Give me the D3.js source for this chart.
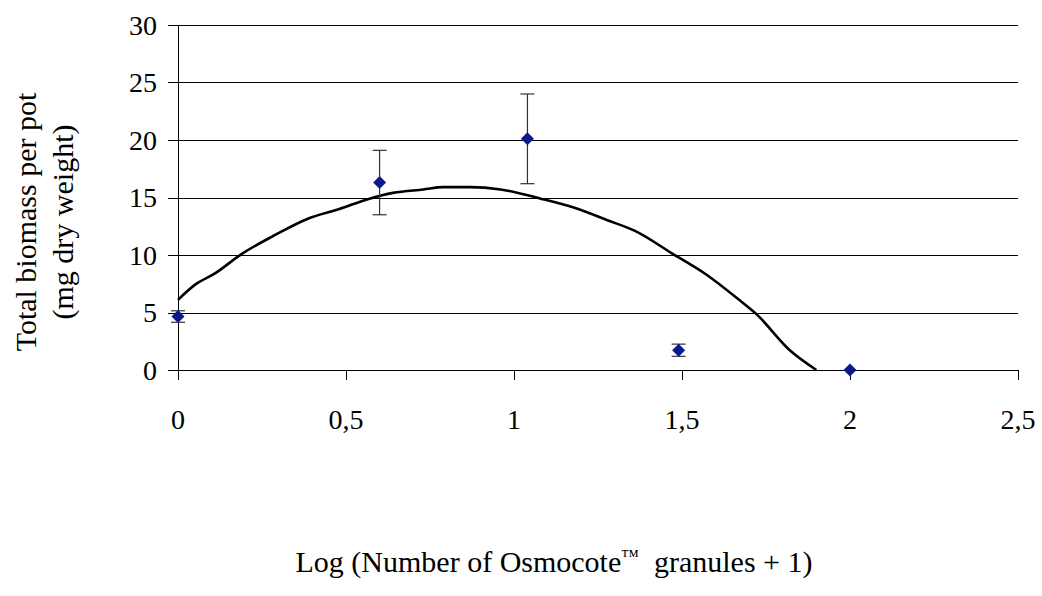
<!DOCTYPE html>
<html>
<head>
  <meta charset="utf-8">
  <title>Total biomass per pot</title>
  <style>
    body { margin: 0; background: #fff; }
    svg { font-family: "Liberation Serif", "Times New Roman", serif; }
    .grid line { stroke: #000; stroke-width: 1; }
    .tick-label { font-size: 28px; fill: #000; }
    .title { font-size: 30px; fill: #000; white-space: pre; }
  </style>
  <script src="https://d3js.org/d3.v7.min.js"></script>
</head>
<body>
  <script>
    // measured points (mean and error)
    var pointX = [0, 0.6, 1.04, 1.49, 2.0];
    var pointY = [4.65, 16.3, 20.1, 1.72, 0];
    var pointErr = [0.5, 2.8, 3.9, 0.53, 0];

    // trendline
    var fitX = [0, 0.05, 0.11, 0.19, 0.28, 0.39, 0.48, 0.57, 0.64, 0.73, 0.79, 0.87, 0.96, 1.08, 1.18, 1.28, 1.36, 1.47, 1.57, 1.67, 1.72, 1.82, 1.90];
    var fitY = [6.1, 7.4, 8.4, 10.1, 11.6, 13.2, 14.0, 14.9, 15.4, 15.7, 15.9, 15.9, 15.7, 14.9, 14.1, 13.0, 12.1, 10.15, 8.35, 6.1, 4.9, 1.74, 0.0];

    var xTicks = [0, 0.5, 1, 1.5, 2, 2.5];
    var yTicks = [0, 5, 10, 15, 20, 25, 30];

    var width = 1042, height = 596;
    var m = {left: 178, right: 1018, top: 25, bottom: 370};

    var svg = d3.select('body').append('svg')
      .attr('width', width)
      .attr('height', height);

    var x = d3.scaleLinear().domain([0, 2.5]).range([m.left, m.right]);
    var y = d3.scaleLinear().domain([0, 30]).range([m.bottom, m.top]);

    var fmt = function(d) { return String(d).replace('.', ','); };

    // horizontal gridlines (also draws the x axis at 0)
    svg.append('g').attr('class', 'grid')
      .selectAll('line')
      .data(yTicks)
      .enter().append('line')
        .attr('x1', m.left - 10)
        .attr('x2', m.right)
        .attr('y1', d => Math.round(y(d)) + 0.5)
        .attr('y2', d => Math.round(y(d)) + 0.5);

    // y axis line
    svg.append('line')
      .attr('x1', m.left + 0.5).attr('x2', m.left + 0.5)
      .attr('y1', y(30)).attr('y2', m.bottom + 10)
      .attr('stroke', '#000');

    // x ticks
    svg.append('g').attr('class', 'grid')
      .selectAll('line')
      .data(xTicks)
      .enter().append('line')
        .attr('x1', d => Math.round(x(d)) + 0.5)
        .attr('x2', d => Math.round(x(d)) + 0.5)
        .attr('y1', m.bottom)
        .attr('y2', m.bottom + 10);

    svg.append('g')
      .selectAll('text')
      .data(yTicks)
      .enter().append('text')
        .attr('class', 'tick-label')
        .attr('x', m.left - 21)
        .attr('y', d => y(d))
        .attr('dy', '0.35em')
        .attr('text-anchor', 'end')
        .text(d => d);

    svg.append('g')
      .selectAll('text')
      .data(xTicks)
      .enter().append('text')
        .attr('class', 'tick-label')
        .attr('x', d => x(d))
        .attr('y', 429)
        .attr('text-anchor', 'middle')
        .text(fmt);

    // trendline
    var line = d3.line()
      .x(d => x(d[0]))
      .y(d => y(d[1]))
      .curve(d3.curveMonotoneX);

    svg.append('path')
      .datum(d3.zip(fitX, fitY))
      .attr('d', line)
      .attr('fill', 'none')
      .attr('stroke', '#000')
      .attr('stroke-width', 2.6);

    // error bars
    var pts = d3.range(pointX.length).map(i => ({x: pointX[i], y: pointY[i], e: pointErr[i]}));
    var bars = svg.append('g')
      .selectAll('g')
      .data(pts.filter(d => d.e > 0))
      .enter().append('g')
        .attr('stroke', '#333')
        .attr('stroke-width', 1.2);

    bars.append('line')
      .attr('x1', d => x(d.x)).attr('x2', d => x(d.x))
      .attr('y1', d => y(d.y + d.e)).attr('y2', d => y(d.y - d.e));
    bars.append('line')
      .attr('x1', d => x(d.x) - 7).attr('x2', d => x(d.x) + 7)
      .attr('y1', d => y(d.y + d.e)).attr('y2', d => y(d.y + d.e));
    bars.append('line')
      .attr('x1', d => x(d.x) - 7).attr('x2', d => x(d.x) + 7)
      .attr('y1', d => y(d.y - d.e)).attr('y2', d => y(d.y - d.e));

    // diamonds
    svg.append('g')
      .selectAll('path')
      .data(pts)
      .enter().append('path')
        .attr('d', 'M0,-6.5L6.5,0L0,6.5L-6.5,0Z')
        .attr('transform', d => 'translate(' + x(d.x) + ',' + y(d.y) + ')')
        .attr('fill', '#0a1a8e');

    // axis titles
    var yt = svg.append('text')
      .attr('class', 'title')
      .attr('transform', 'translate(0,222) rotate(-90)')
      .attr('text-anchor', 'middle');
    yt.append('tspan').attr('x', 0).attr('y', 36).text('Total biomass per pot');
    yt.append('tspan').attr('x', 0).attr('y', 73).text('(mg dry weight)');

    var xt = svg.append('text')
      .attr('class', 'title')
      .attr('x', 554)
      .attr('y', 572)
      .attr('text-anchor', 'middle');
    xt.append('tspan').text('Log (Number of Osmocote');
    xt.append('tspan').attr('dy', -10).style('font-size', '18px').text('\u2122');
    xt.append('tspan').attr('dy', 10).text('  granules + 1)');
  </script>
</body>
</html>
